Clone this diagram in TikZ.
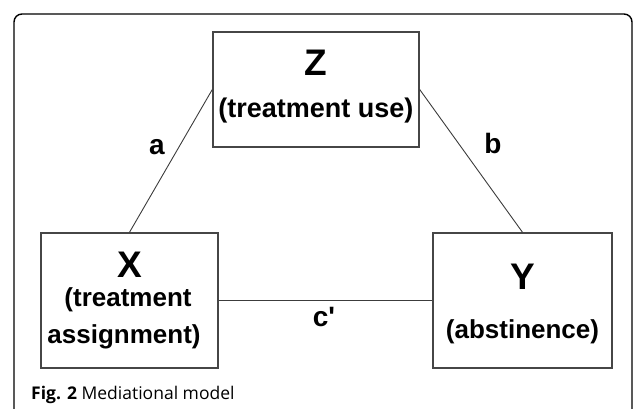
\documentclass[tikz,border=0pt]{standalone}
\usepackage{fontspec}
\newfontfamily\boxfont{Liberation Sans}
\newfontfamily\capfont{Open Sans}
\usetikzlibrary{calc}
\definecolor{boxcol}{RGB}{70,70,70}
\definecolor{linecol}{RGB}{60,60,60}

\begin{document}
\begin{tikzpicture}[x=1pt, y=-1pt,
        varbox/.style={draw=boxcol, line width=1.4pt, inner sep=0pt, minimum width=#1},
        bigletter/.style={inner sep=0pt, font=\boxfont\bfseries\fontsize{37}{40}\selectfont},
        varlabel/.style={inner sep=0pt, font=\boxfont\bfseries\fontsize{26}{28}\selectfont},
        pathlabel/.style={inner sep=0pt, font=\boxfont\bfseries\fontsize{28}{30}\selectfont},
        pathline/.style={draw=linecol, line width=0.9pt}]
        \useasboundingbox (0, 0) rectangle (633, 409);
        \coordinate (origin) at (0, 0);
        
        % outer frame of the figure
        \draw [line width=1.4pt, rounded corners=8pt] ($(origin) + (14, 412)$) -- ($(origin) + (14, 14)$) -- ($(origin) + (632, 14)$) -- ($(origin) + (632, 412)$);
        
        % mediator
        \node (zbox) [varbox=206pt, minimum height=115pt] at ($(origin) + (316, 89.5)$) {};
        \node (zlet) [bigletter] at ($(origin) + (316, 63)$) {Z};
        \node (zlab) [varlabel, font=\boxfont\bfseries\fontsize{27}{29}\selectfont] at ($(origin) + (316, 111)$) {(treatment use)};
        
        % independent variable
        \node (xbox) [varbox=177pt, minimum height=135pt] at ($(origin) + (129.5, 300.5)$) {};
        \node (xlet) [bigletter] at ($(origin) + (129.5, 265)$) {X};
        \node (xlab1) [varlabel] at ($(origin) + (128, 300)$) {(treatment};
        \node (xlab2) [varlabel] at ($(origin) + (124, 337)$) {assignment)};
        
        % outcome
        \node (ybox) [varbox=179pt, minimum height=135pt] at ($(origin) + (522.5, 300.5)$) {};
        \node (ylet) [bigletter] at ($(origin) + (522.5, 277)$) {Y};
        \node (ylab) [varlabel] at ($(origin) + (522.5, 332)$) {(abstinence)};
        
        % paths
        \draw [pathline] (xbox.north) -- (zbox.west);
        \draw [pathline] (zbox.east) -- (ybox.north);
        \draw [pathline] (xbox.east) -- (ybox.west);
        
        \node (apath) [pathlabel] at ($(origin) + (157, 147)$) {a};
        \node (bpath) [pathlabel] at ($(origin) + (493, 143)$) {b};
        \node (cpath) [pathlabel] at ($(origin) + (324, 317)$) {c'};
        
        % caption
        \node (caption) [anchor=west, inner sep=0pt, font=\capfont\fontsize{17.5}{20}\selectfont] at ($(origin) + (31, 395)$) {\textbf{Fig. 2} Mediational model};
      \end{tikzpicture}
\end{document}
